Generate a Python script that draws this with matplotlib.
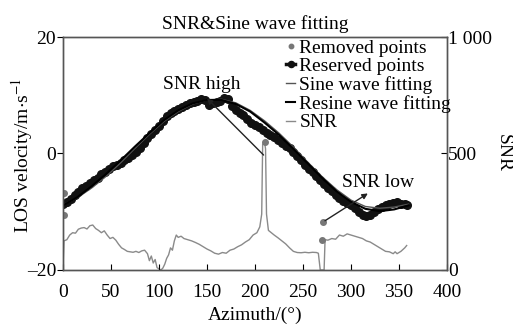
import numpy as np
import matplotlib
matplotlib.use("Agg")
import matplotlib.pyplot as plt

plt.rcParams['font.family'] = ['Liberation Serif', 'DejaVu Serif']
plt.rcParams['mathtext.fontset'] = 'stix'

# reserved points (azimuth deg, LOS velocity m/s)
res_az = [0, 4, 8, 12, 16, 20, 24, 28, 32, 36, 40, 44, 48, 52, 56, 60, 64, 68, 72, 76,
          80, 84, 88, 92, 96, 100, 104, 108, 112, 116, 120, 124, 128, 132, 136, 140, 144, 148, 152, 156,
          160, 164, 168, 172, 176, 180, 184, 188, 192, 196, 200, 204, 208, 212, 216, 220, 224, 228, 232, 236,
          240, 244, 248, 252, 256, 260, 264, 268, 272, 276, 280, 284, 288, 292, 296, 300, 304, 308, 312, 316,
          320, 324, 328, 332, 336, 340, 344, 348, 352, 356, 358]
res_vel = [-8.6, -8.3, -7.8, -7.1, -6.6, -5.9, -5.6, -5.0, -4.6, -4.2, -3.6, -3.2, -2.7, -2.2, -1.9, -1.6, -1.2, -0.8, -0.3, 0.3,
           1.0, 1.8, 2.6, 3.3, 4.0, 4.8, 5.6, 6.4, 7.0, 7.3, 7.6, 8.0, 8.3, 8.6, 8.8, 9.0, 9.3, 9.1, 8.4, 8.7,
           8.9, 9.0, 9.6, 9.4, 8.2, 7.5, 7.0, 6.6, 5.9, 5.2, 4.9, 4.6, 4.0, 3.6, 3.1, 2.8, 2.3, 1.8, 1.3, 0.9,
           0.2, -0.4, -1.1, -2.0, -2.6, -3.2, -3.8, -4.5, -5.2, -5.9, -6.4, -7.1, -7.6, -8.2, -8.5, -8.8, -9.3, -10.0, -10.5, -10.7,
           -10.6, -10.0, -9.5, -9.2, -8.9, -8.7, -8.5, -8.4, -8.6, -8.7, -8.8]

# removed points
rem_az = [1, 1, 210, 270.5, 269.5]
rem_vel = [-6.8, -10.6, 2.0, -11.8, -14.8]

# fitted curves
fit_az = [0, 15, 30, 45, 60, 75, 90, 105, 120, 135, 150, 165, 180, 195, 210, 225, 240, 255, 270, 285, 300, 315, 330, 345, 360]
sine_fit = [-8.8, -7.6, -5.9, -3.9, -1.6, 0.9, 3.3, 5.5, 7.2, 8.5, 9.2, 9.3, 8.7, 7.4, 5.6, 3.5, 1.1, -1.5, -4.0, -6.2, -8.0, -9.1, -9.4, -9.2, -8.7]
resine_fit = [-8.9, -7.5, -5.6, -3.5, -1.2, 1.2, 3.5, 5.7, 7.4, 8.6, 9.2, 9.2, 8.5, 7.2, 5.3, 3.2, 0.8, -1.7, -4.2, -6.5, -8.3, -9.5, -9.9, -9.6, -8.9]

# SNR curve
snr_az = [0, 1, 4, 7, 10, 13, 16, 19, 22, 25, 28, 31, 34, 37, 40, 43, 46, 49, 52, 55,
          58, 61, 64, 67, 70, 73, 76, 79, 82, 85, 88, 90, 92, 94, 96, 98, 100, 102, 104, 106,
          108, 110, 112, 114, 116, 118, 120, 123, 126, 130, 134, 138, 142, 146, 150, 154, 158, 162, 166, 170,
          174, 178, 182, 186, 190, 194, 198, 202, 205, 207, 208, 210, 211, 212, 214, 217, 220, 224, 228, 232,
          236, 240, 244, 248, 252, 256, 260, 264, 266, 268, 272, 273, 276, 280, 284, 288, 292, 296, 300, 304,
          308, 312, 316, 320, 324, 328, 332, 336, 340, 344, 346, 348, 352, 356, 358]
snr_val = [10, 125, 130, 150, 160, 158, 175, 180, 182, 176, 190, 193, 178, 170, 160, 168, 150, 135, 140, 128,
           110, 95, 88, 80, 78, 76, 80, 75, 82, 85, 70, 40, 60, 30, 45, 10, 5, 0, 8, 25,
           50, 65, 95, 85, 125, 150, 140, 145, 135, 130, 125, 118, 110, 100, 90, 82, 72, 68, 75, 72,
           85, 90, 100, 108, 120, 130, 150, 160, 185, 240, 540, 548, 520, 240, 170, 160, 150, 138, 125, 112,
           95, 80, 75, 74, 76, 74, 76, 75, 72, 0, 0, 130, 128, 135, 132, 150, 145, 155, 150, 145,
           140, 135, 125, 120, 110, 100, 90, 80, 78, 70, 78, 70, 80, 95, 105]

fig = plt.figure(figsize=(5.13, 3.26), dpi=100)
ax = fig.add_axes([0.1228, 0.1718, 0.7485, 0.7147])
ax2 = ax.twinx()

ln_snr, = ax2.plot(snr_az, snr_val, color='#8a8a8a', lw=1.0, label='SNR')
ax2.set_ylim(0, 1000)
ax2.set_yticks([0, 500, 1000])
ax2.set_yticklabels(['0', '500', '1 000'])
ax2.set_ylabel('SNR', rotation=-90, fontsize=14, va='center')
ax2.yaxis.set_label_coords(1.146, 0.5)
ax2.tick_params(direction='in', labelsize=14, length=4, pad=1)

ax.set_zorder(ax2.get_zorder() + 1)
ax.patch.set_visible(False)

l_rem, = ax.plot(rem_az, rem_vel, 'o', color='#777777', ms=4, ls='none', label='Removed points')
l_res, = ax.plot(res_az, res_vel, 'o', color='#111111', ms=5.5, ls='-', lw=2.5, label='Reserved points')
l_sin, = ax.plot(fit_az, sine_fit, color='#555555', lw=1.0, label='Sine wave fitting')
l_rsn, = ax.plot(fit_az, resine_fit, color='black', lw=1.5, label='Resine wave fitting')

ax.annotate('', xy=(148, 9.8), xytext=(211, -0.6),
            arrowprops=dict(arrowstyle='-|>', color='#222222', lw=1.0, mutation_scale=8))
ax.text(145, 11.8, 'SNR high', fontsize=14, ha='center', va='center')
ax.annotate('', xy=(320, -6.6), xytext=(270.5, -11.8),
            arrowprops=dict(arrowstyle='-|>', color='#222222', lw=1.0, mutation_scale=8))
ax.text(328, -4.9, 'SNR low', fontsize=14, ha='center', va='center')

ax.set_xlim(0, 400)
ax.set_ylim(-20, 20)
ax.set_xticks(range(0, 401, 50))
ax.set_yticks([-20, 0, 20])
ax.set_yticklabels(['\u201320', '0', '20'])
ax.tick_params(axis='x', direction='in', labelsize=14, length=4, pad=10)
ax.tick_params(axis='y', direction='out', labelsize=14, length=4, pad=1)
ax.set_xlabel('Azimuth/(\u00b0)', fontsize=14, labelpad=4)
ax.set_ylabel('LOS velocity/m$\\cdot$s$^{-1}$', fontsize=14, va='center')
ax.yaxis.set_label_coords(-0.107, 0.49)
ax.set_title('SNR&Sine wave fitting', fontsize=14, pad=6)

for a in (ax, ax2):
    for s in a.spines.values():
        s.set_color('#555555')
        s.set_linewidth(1.0)

ax.legend(handles=[l_rem, l_res, l_sin, l_rsn, ln_snr], loc='upper left',
          bbox_to_anchor=(0.575, 1.0), frameon=False, fontsize=14,
          handlelength=0.5, handletextpad=0.2, labelspacing=0.05,
          borderpad=0.1, borderaxespad=0.0, markerscale=0.8)

fig.savefig('out.png', dpi=100)
